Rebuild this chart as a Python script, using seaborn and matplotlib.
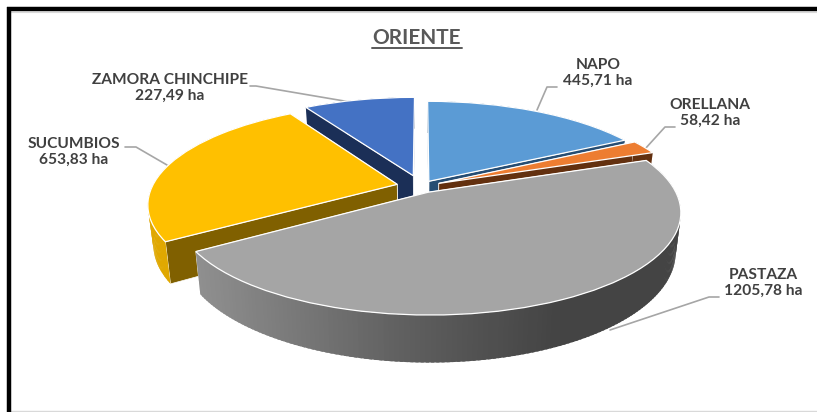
#
# Oriente: hectares per province, drawn as an exploded 3D style pie.
#
import numpy as np
import matplotlib
matplotlib.use("Agg")
import matplotlib.pyplot as plt
from matplotlib.transforms import Transform
import seaborn as sns

sns.set_theme(style="white")
plt.rcParams['font.family'] = ['Lato', 'DejaVu Sans']

provinces = ["NAPO", "ORELLANA", "PASTAZA", "SUCUMBIOS", "ZAMORA CHINCHIPE"]
hectares = [445.71, 58.42, 1205.78, 653.83, 227.49]
hectare_labels = ["445,71 ha", "58,42 ha", "1205,78 ha", "653,83 ha", "227,49 ha"]
title = "ORIENTE"

explode = [0.063, 0.08, 0.065, 0.10, 0.118]
top_colors = sns.color_palette(["#5B9BD5", "#ED7D31", "#A5A5A5", "#FFC000", "#4472C4"])
face_colors = sns.color_palette(["#264D73", "#63300F", "#636363", "#806000", "#1B2F57"])
wall_colors = sns.color_palette(["#264D73", "#63300F", "#636363", "#E0A800", "#1B2F57"])

# pie geometry in pixels of the 817x412 figure
cx, cy = 421, 186.5
rx, ry = 245, 97
tilt = 0.19
depth = 38
shrink = 0.98

# order the slices are painted, back to front
paint_order = [4, 0, 1, 3, 2]

# text centre, then the leader line
label_pos = [(598, 73), (710, 113), (763, 283), (74, 152), (170, 88)]
leaders = [
    [(557, 87), (547, 87), (537, 110)],
    [(675, 127), (665, 127), (645, 149)],
    [(719, 297), (709, 297), (610, 330)],
    [(125, 147), (136, 147), (167, 165)],
    [(250, 86), (256, 86), (356, 103)],
]


def project(x, y, z=0.0):
    w = 1 / (1 + tilt * np.asarray(y))
    px = rx * np.asarray(x) * w
    py = -ry * np.asarray(y) * w
    if z:
        return cx + px * shrink, cy + py + z * w
    return cx + px, cy + py


class PieProjection(Transform):
    input_dims = 2
    output_dims = 2

    def transform_non_affine(self, values):
        px, py = project(values[:, 0], values[:, 1])
        return np.column_stack([px, py])


def pastaza_shade(x):
    v = np.interp(x, [200, 410, 560], [0.56, 0.37, 0.265])
    return (v, v, v)


fig = plt.figure(figsize=(8.17, 4.12), dpi=100)
ax = fig.add_axes([0, 0, 1, 1])

wedges, _ = ax.pie(hectares, explode=explode, colors=top_colors, startangle=90,
                   counterclock=False, radius=1,
                   wedgeprops={"edgecolor": "white", "linewidth": 0.9})

for layer, i in enumerate(paint_order):
    wedge = wedges[i]
    ox, oy = wedge.center
    t1, t2 = np.radians(wedge.theta1), np.radians(wedge.theta2)
    base = 10 + layer * 3

    # the two flat cut faces
    for t in (t1, t2):
        ex, ey = ox + np.cos(t), oy + np.sin(t)
        xa, ya = project(np.array([ox, ex]), np.array([oy, ey]))
        xb, yb = project(np.array([ex, ox]), np.array([ey, oy]), depth)
        ax.fill(np.r_[xa, xb], np.r_[ya, yb], color=face_colors[i], ec="white",
                lw=0.5, zorder=base)

    # curved outer wall in small steps so it can be shaded, each overlapping the next
    steps = np.linspace(t1, t2, int(np.degrees(t2 - t1)) + 2)
    step = steps[1] - steps[0]
    for a in steps[:-1]:
        ang = np.array([a, min(a + 1.6 * step, t2)])
        wx, wy = ox + np.cos(ang), oy + np.sin(ang)
        xa, ya = project(wx, wy)
        xb, yb = project(wx[::-1], wy[::-1], depth)
        col = pastaza_shade(xa.mean()) if i == 2 else wall_colors[i]
        ax.fill(np.r_[xa, xb], np.r_[ya, yb], facecolor=col, edgecolor="none", zorder=base + 1)

    wedge.set_transform(PieProjection() + ax.transData)
    wedge.set_zorder(base + 2)
    wedge.set_clip_on(False)

for name, value, pos, line in zip(provinces, hectare_labels, label_pos, leaders):
    ax.text(pos[0], pos[1], name + "\n" + value, ha="center", va="center",
            fontsize=11.2, fontweight="bold", color="#404040", linespacing=1.18, zorder=40)
    ax.plot([p[0] for p in line], [p[1] for p in line], color="#A6A6A6", lw=1.2, zorder=9)

ax.text(417, 38, title, ha="center", va="center", fontsize=15, fontweight="bold",
        color="#595959", zorder=40)
ax.plot([372, 462], [48, 48], color="#595959", lw=1.4, zorder=40)

# chart frame: heavy top and left, pale bottom
ax.plot([7, 817], [9, 9], color="black", lw=3.2, zorder=50, solid_capstyle="butt")
ax.plot([9, 9], [7, 412], color="black", lw=3.2, zorder=50, solid_capstyle="butt")
ax.plot([11, 817], [11.8, 11.8], color="#D9D9D9", lw=0.8, zorder=49)
ax.plot([11, 817], [411, 411], color="#D9D9D9", lw=1, zorder=49)

ax.set_aspect("auto")
ax.set_xlim(0, 817)
ax.set_ylim(412, 0)
ax.axis("off")

fig.savefig("out.png", dpi=100)
